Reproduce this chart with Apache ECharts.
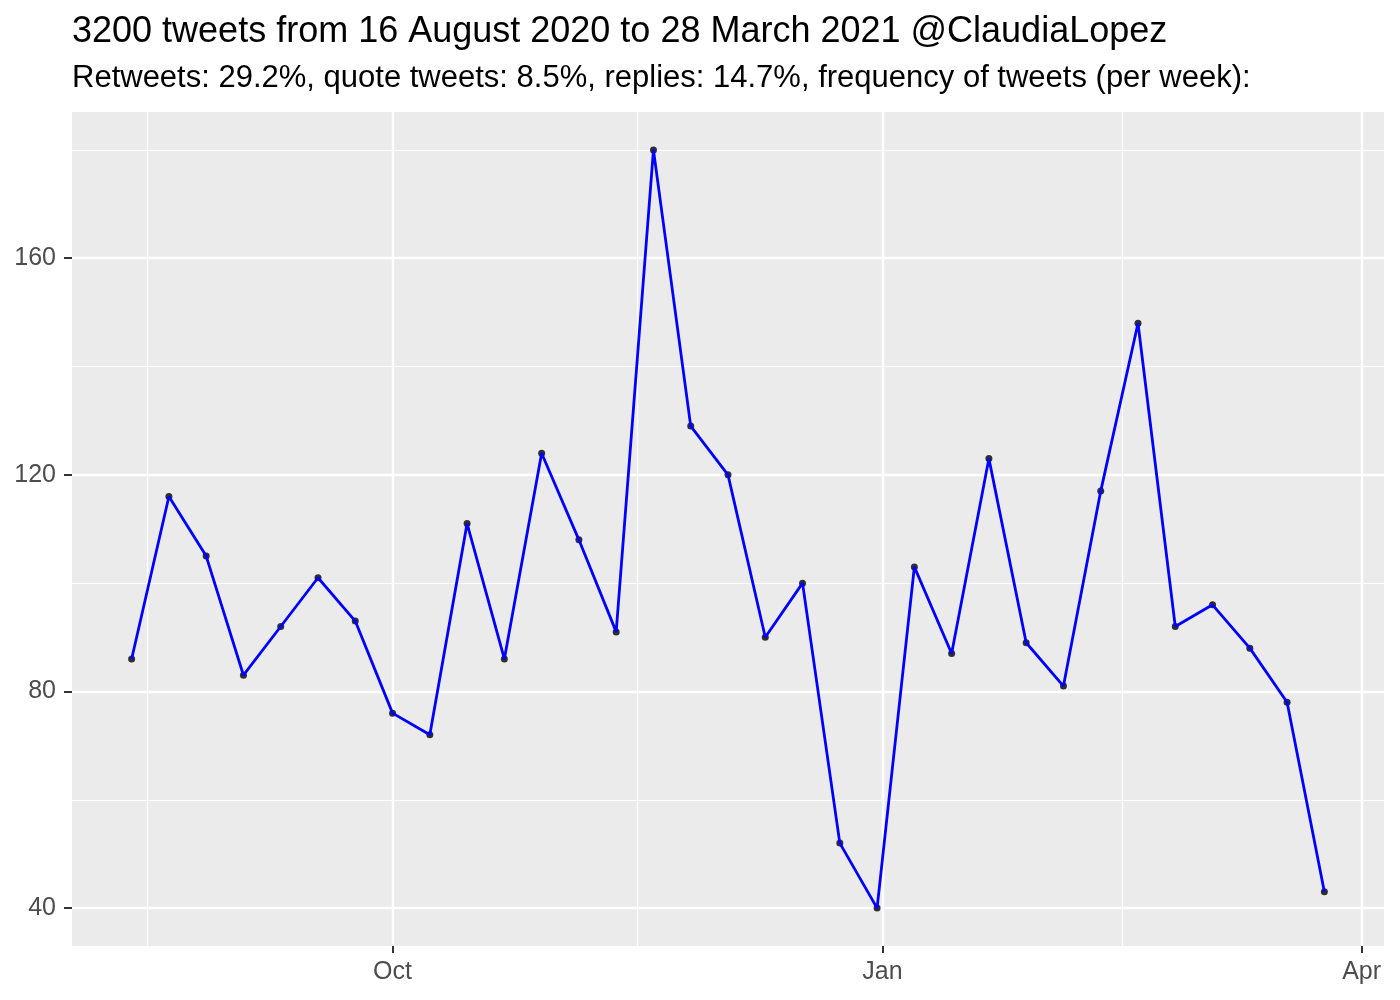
<!DOCTYPE html>
<html>
<head>
<meta charset="utf-8">
<script src="https://cdn.jsdelivr.net/npm/echarts@6/dist/echarts.min.js"></script>
<style>html,body{margin:0;padding:0;background:#fff}#c{width:1400px;height:1000px}</style>
</head>
<body>
<div id="c"></div>
<script>
const weekDates = ['2020-08-13','2020-08-20','2020-08-27','2020-09-03','2020-09-10','2020-09-17','2020-09-24',
  '2020-10-01','2020-10-08','2020-10-15','2020-10-22','2020-10-29','2020-11-05','2020-11-12','2020-11-19','2020-11-26',
  '2020-12-03','2020-12-10','2020-12-17','2020-12-24','2020-12-31','2021-01-07','2021-01-14','2021-01-21','2021-01-28',
  '2021-02-04','2021-02-11','2021-02-18','2021-02-25','2021-03-04','2021-03-11','2021-03-18','2021-03-25'];
const tweetCounts = [86,116,105,83,92,101,93,76,72,111,86,124,108,91,180,129,120,90,100,52,40,103,87,123,89,81,117,148,92,96,88,78,43];
const yTicks = [40,80,120,160];
const yMinorTicks = [60,100,140,180];
const xTickDates = ['2020-10-01','2021-01-01','2021-04-01'];
const xTickLabels = ['Oct','Jan','Apr'];
const xMinorDates = ['2020-08-16','2020-11-16','2021-02-15'];
const titleText = '3200 tweets from 16 August 2020 to 28 March 2021 @ClaudiaLopez';
const subtitleText = 'Retweets: 29.2%, quote tweets: 8.5%, replies: 14.7%, frequency of tweets (per week):';

const t = s => Date.parse(s + 'T00:00:00Z');
const first = t(weekDates[0]), last = t(weekDates[weekDates.length - 1]);
const xPad = (last - first) * 0.05;
const yLo = Math.min(...tweetCounts), yHi = Math.max(...tweetCounts);
const yPad = (yHi - yLo) * 0.05;

const points = weekDates.map((d, i) => [t(d), tweetCounts[i]]);
const xTickVals = xTickDates.map(t);
const FONT = 'Liberation Sans';

const gridLines = [];
yTicks.forEach(v => gridLines.push({yAxis: v, lineStyle: {width: 2.4}}));
yMinorTicks.forEach(v => gridLines.push({yAxis: v, lineStyle: {width: 1.2}}));
xTickVals.forEach(v => gridLines.push({xAxis: v, lineStyle: {width: 2.4}}));
xMinorDates.forEach(d => gridLines.push({xAxis: t(d), lineStyle: {width: 1.2}}));

const chart = echarts.init(document.getElementById('c'), null, {renderer: 'canvas'});
chart.setOption({
  animation: false,
  backgroundColor: '#ffffff',
  title: [
    {text: titleText, left: 67, top: 9, textStyle: {fontFamily: FONT, fontSize: 36, fontWeight: 'normal', color: '#000'}},
    {text: subtitleText, left: 67, top: 58, textStyle: {fontFamily: FONT, fontSize: 31, fontWeight: 'normal', color: '#000'}}
  ],
  grid: {left: 72, right: 16, top: 112, bottom: 54, show: true, backgroundColor: '#EBEBEB', borderWidth: 0},
  xAxis: {
    type: 'value',
    min: first - xPad, max: last + xPad,
    axisLine: {show: false},
    splitLine: {show: false},
    axisTick: {show: true, customValues: xTickVals, length: 7, lineStyle: {color: '#333333', width: 2}},
    axisLabel: {
      customValues: xTickVals, margin: 14,
      formatter: v => { const i = xTickVals.indexOf(v); return i >= 0 ? xTickLabels[i] : ''; },
      fontFamily: FONT, fontSize: 25, color: '#4D4D4D'
    }
  },
  yAxis: {
    type: 'value',
    min: yLo - yPad, max: yHi + yPad,
    axisLine: {show: false},
    splitLine: {show: false},
    axisTick: {show: true, customValues: yTicks, length: 8, lineStyle: {color: '#333333', width: 2}},
    axisLabel: {customValues: yTicks, margin: 16, fontFamily: FONT, fontSize: 25, color: '#4D4D4D'}
  },
  series: [
    {
      type: 'line', data: [], z: 1, silent: true,
      markLine: {silent: true, symbol: ['none', 'none'], label: {show: false}, animation: false,
        lineStyle: {color: '#ffffff', type: 'solid'}, emphasis: {disabled: true}, data: gridLines}
    },
    {type: 'scatter', data: points, symbolSize: 7, itemStyle: {color: '#000'}, zlevel: 1, z: 2, silent: true},
    {type: 'line', data: points, showSymbol: false, lineStyle: {color: '#0000FF', width: 2.8}, zlevel: 1, z: 3, silent: true}
  ]
});
</script>
</body>
</html>
